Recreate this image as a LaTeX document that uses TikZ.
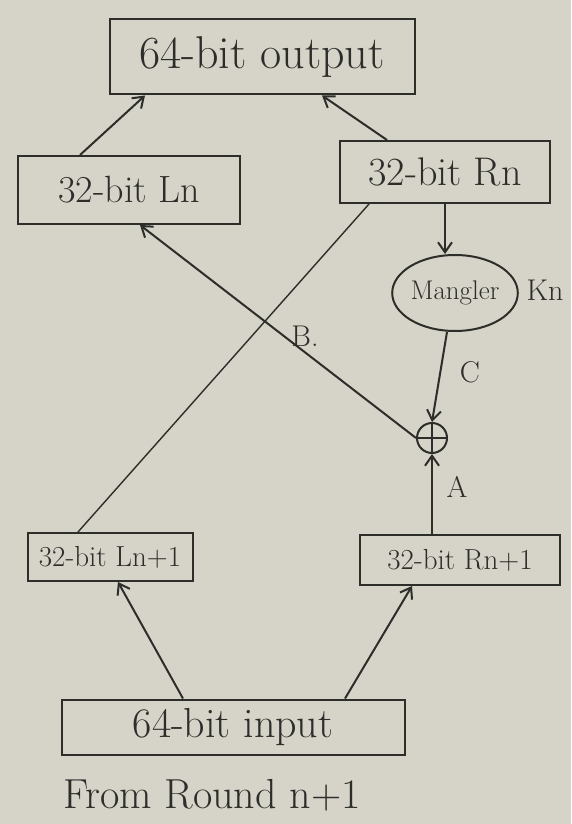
\documentclass[tikz,border=0pt]{standalone}
\usetikzlibrary{arrows.meta,shapes.geometric}
\definecolor{paper}{RGB}{214,212,201}
\definecolor{ink}{RGB}{45,45,42}
\begin{document}
\begin{tikzpicture}[x=1pt,y=-1pt,
  every node/.style={text=ink},
  box/.style={draw=ink,line width=2pt,rectangle,inner sep=0pt},
  arr/.style={draw=ink,line width=2pt,-{Straight Barb[length=10pt,width=14pt]}},
  thinln/.style={draw=ink,line width=1.4pt},
  lbl/.style={font=\fontsize{30}{32}\selectfont}]
\fill[paper] (0,0) rectangle (571,824);
\useasboundingbox (0,0) rectangle (571,824);
\node[box,minimum width=305pt,minimum height=75pt,font=\fontsize{46}{48}\selectfont] (out) at (262,57) {64-bit output};
\node[box,minimum width=222pt,minimum height=68pt,font=\fontsize{38}{40}\selectfont] (ln) at (129,190) {32-bit Ln};
\node[box,minimum width=210pt,minimum height=62pt,font=\fontsize{40}{42}\selectfont] (rn) at (445,172) {32-bit Rn};
\node[draw=ink,line width=2pt,ellipse,minimum width=110pt,minimum height=76pt,inner sep=0pt,font=\fontsize{27}{29}\selectfont] (mg) at (455,293) {Mangler};
\node[draw=ink,line width=2pt,circle,minimum size=30pt,inner sep=0pt] (xor) at (432,438) {};
\draw[ink,line width=2pt] (xor.north) -- (xor.south) (xor.west) -- (xor.east);
\node[box,minimum width=165pt,minimum height=48pt,font=\fontsize{29}{31}\selectfont] (ln1) at (110,557) {32-bit Ln+1};
\node[box,minimum width=200pt,minimum height=50pt,font=\fontsize{29}{31}\selectfont] (rn1) at (460,560) {32-bit Rn+1};
\node[box,minimum width=343pt,minimum height=55pt,font=\fontsize{42}{44}\selectfont] (in) at (233,727) {64-bit input};
\node[font=\fontsize{42}{44}\selectfont] (from) at (212,795) {From Round n+1};
\node[lbl] (kn) at (545,290) {Kn};
\node[lbl] (c) at (470,372) {C};
\node[lbl] (b) at (305,336) {B.};
\node[lbl] (a) at (457,487) {A};
% connectors
\draw[arr] ([xshift=-49pt]ln.north) -- ([xshift=-117pt]out.south);
\draw[arr] ([xshift=-58pt]rn.north) -- ([xshift=60pt]out.south);
\draw[arr] (rn.south) -- (rn.south |- mg.north);
\draw[arr] ([xshift=-8pt]mg.south) -- (xor.north);
\draw[arr] (xor.west) -- ([xshift=11pt]ln.south);
\draw[thinln] ([xshift=-32pt]ln1.north) -- ([xshift=30pt]rn.south west);
\draw[arr] (xor.south |- rn1.north) -- (xor.south);
\draw[arr] ([xshift=-50pt]in.north) -- ([xshift=8pt]ln1.south);
\draw[arr] ([xshift=112pt]in.north) -- ([xshift=-48pt]rn1.south);
\end{tikzpicture}
\end{document}
